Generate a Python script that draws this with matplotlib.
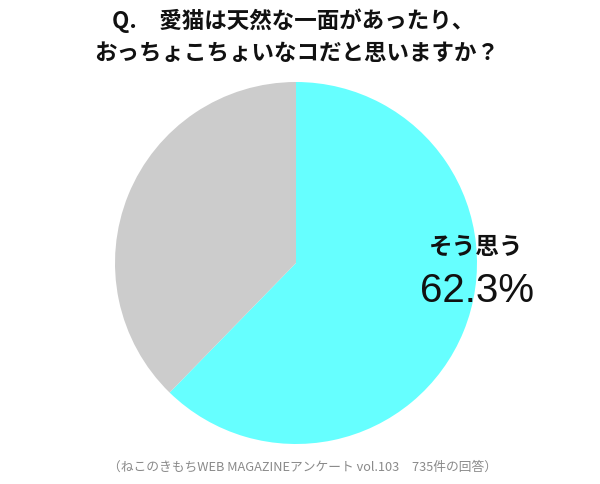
import matplotlib
matplotlib.use("Agg")
import matplotlib.pyplot as plt

plt.rcParams['font.family'] = ['Noto Sans CJK JP', 'DejaVu Sans']

labels = ["そう思う", "そう思わない"]
values = [62.3, 37.7]
colors = ["#66FFFF", "#CCCCCC"]

fig = plt.figure(figsize=(6.0, 4.85), dpi=100)
W, H = 600, 485
cx, cy, r = 296, 264, 181
ax = fig.add_axes([(cx - r) / W, 1 - (cy + r) / H, 2 * r / W, 2 * r / H])
ax.pie(values, colors=colors, startangle=90, counterclock=False,
       wedgeprops=dict(linewidth=0))
ax.set_aspect('equal')
ax.set_xlim(-1, 1)
ax.set_ylim(-1, 1)
ax.axis('off')

fig.text(293 / W, 1 - 21 / H, "Q.　愛猫は天然な一面があったり、", ha='center', va='center',
         fontsize=16.2, fontweight='bold', color='#111111')
fig.text(297 / W, 1 - 54 / H, "おっちょこちょいなコだと思いますか？", ha='center', va='center',
         fontsize=16.2, fontweight='bold', color='#111111')

fig.text(476 / W, 1 - 247 / H, labels[0], ha='center', va='center',
         fontsize=17, fontweight='bold', color='#111111')
fig.text(477 / W, 1 - 291 / H, f"{values[0]}%", ha='center', va='center',
         fontsize=29, color='#111111', family=['Liberation Sans', 'DejaVu Sans'])

fig.text(302 / W, 1 - 467 / H, "（ねこのきもちWEB MAGAZINEアンケート vol.103　735件の回答）",
         ha='center', va='center', fontsize=9.2, color='#8a8a8a')

fig.savefig("out.png", dpi=100, facecolor='white')
